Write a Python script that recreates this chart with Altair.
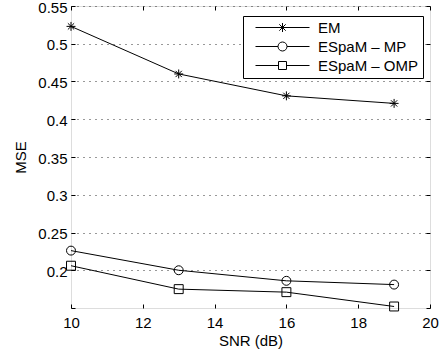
import altair as alt
import pandas as pd

snr = [10, 13, 16, 19]
em = [0.523, 0.460, 0.431, 0.421]
mp = [0.226, 0.200, 0.186, 0.181]
omp = [0.206, 0.175, 0.171, 0.152]
series_names = ["EM", "ESpaM – MP", "ESpaM – OMP"]
x_ticks = [10, 12, 14, 16, 18, 20]
y_ticks = [0.15, 0.2, 0.25, 0.3, 0.35, 0.4, 0.45, 0.5, 0.55]
y_labels = [0.2, 0.25, 0.3, 0.35, 0.4, 0.45, 0.5, 0.55]

rows = []
for name, vals in zip(series_names, [em, mp, omp]):
    for s, v in zip(snr, vals):
        rows.append({"snr": s, "mse": v, "series": name})
df = pd.DataFrame(rows)

FONT = "Liberation Sans"
FS = 15
ast = "M-1,0L1,0M0,-1L0,1M-0.7,-0.7L0.7,0.7M-0.7,0.7L0.7,-0.7"
marker_shapes = [ast, "circle", "square"]

leg_em = ("M0.2,0L11,0M4.7,0L6.5,0M5.6,-0.9L5.6,0.9M4.96,-0.64L6.24,0.64M4.96,0.64L6.24,-0.64")
leg_mp = ("M0.2,0L4.7,0M6.5,0L11,0M6.5,0A0.9,0.9 0 1,1 4.7,0A0.9,0.9 0 1,1 6.5,0Z")
leg_omp = ("M0.2,0L4.8,0M6.4,0L11,0M4.8,-0.8L6.4,-0.8L6.4,0.8L4.8,0.8Z")
legend_shapes = [leg_em, leg_mp, leg_omp]

xscale = alt.Scale(domain=[10, 20], nice=False, zero=False)
yscale = alt.Scale(domain=[0.15, 0.55], nice=False, zero=False)

base = alt.Chart(df)

lines = base.mark_line(color="black", strokeWidth=1).encode(
    x=alt.X("snr:Q", scale=xscale, title="SNR (dB)",
            axis=alt.Axis(values=x_ticks, tickSize=0, domain=False, grid=False,
                          labelPadding=7, titlePadding=3, labelFont=FONT, titleFont=FONT,
                          labelFontSize=FS, titleFontSize=FS, titleFontWeight="normal",
                          labelColor="black", titleColor="black", labelFlush=False)),
    y=alt.Y("mse:Q", scale=yscale, title="MSE",
            axis=alt.Axis(values=y_labels, format=".2~f", tickSize=0, domain=False,
                          grid=True, gridDash=[1, 5], gridColor="#000", gridOpacity=0.8,
                          labelPadding=4, titlePadding=9, labelFont=FONT, titleFont=FONT,
                          labelFontSize=FS, titleFontSize=FS, titleFontWeight="normal",
                          labelOffset=1,
                          labelColor="black", titleColor="black", labelFlush=False)),
    detail="series:N",
)

tick_ax = dict(labels=False, domain=False, grid=False, title=None, tickSize=4,
               tickColor="black", offset=-4)

points = base.mark_point(filled=False, color="black", strokeWidth=1, size=80, opacity=1).encode(
    x=alt.X("snr:Q", scale=xscale, axis=alt.Axis(values=x_ticks, orient="bottom", **tick_ax)),
    y=alt.Y("mse:Q", scale=yscale, axis=alt.Axis(values=y_ticks, orient="left", **tick_ax)),
    shape=alt.Shape("series:N", scale=alt.Scale(domain=series_names, range=marker_shapes),
                    legend=None),
)

legend_layer = base.mark_point(filled=False, color="black", opacity=0, size=100).encode(
    x=alt.X("snr:Q", scale=xscale, axis=alt.Axis(values=x_ticks, orient="top", **tick_ax)),
    y=alt.Y("mse:Q", scale=yscale, axis=alt.Axis(values=y_ticks, orient="right", **tick_ax)),
    shape=alt.Shape("series:N", scale=alt.Scale(domain=series_names, range=legend_shapes),
                    legend=alt.Legend(title=None, orient="none", legendX=172, legendY=10,
                                      symbolSize=100, symbolStrokeColor="black",
                                      symbolOpacity=1, symbolStrokeWidth=1,
                                      symbolFillColor="transparent",
                                      labelOffset=56, padding=4, rowPadding=3,
                                      labelFont=FONT, labelFontSize=FS, labelColor="black",
                                      strokeColor="black", fillColor="white",
                                      cornerRadius=0)),
)

chart = alt.layer(lines, points, legend_layer).resolve_scale(
    shape="independent"
).resolve_axis(
    x="independent", y="independent"
).resolve_legend(
    shape="independent"
).properties(
    width=359, height=302,
    autosize=alt.AutoSizeParams(type="none"),
    padding={"left": 71, "top": 6, "right": 9, "bottom": 50},
).configure_view(
    stroke="black", strokeWidth=1
).configure(background="white")

chart.save("out.html", embed_options={"renderer": "svg", "actions": False})
